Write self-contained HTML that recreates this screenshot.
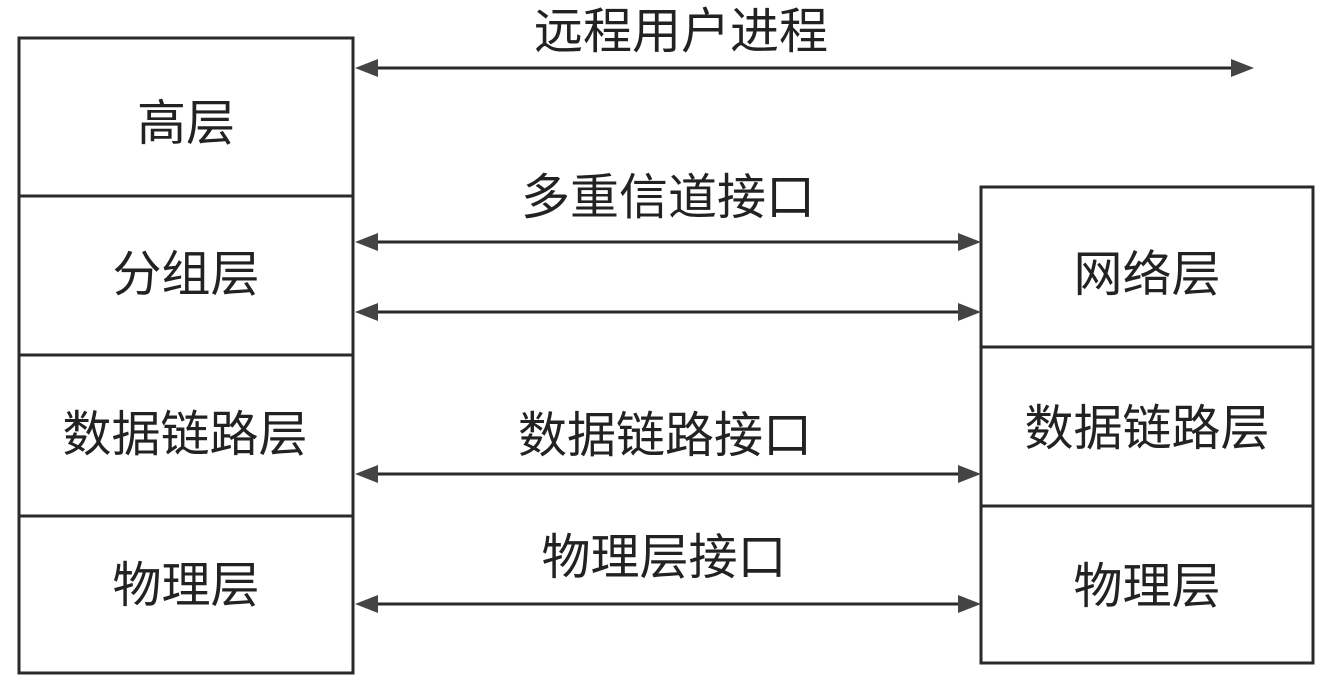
<!DOCTYPE html>
<html><head><meta charset="utf-8"><style>
html,body{margin:0;padding:0;background:#fff;}
svg text{font-family:"Liberation Sans","Noto Sans CJK SC",sans-serif;font-size:49px;fill:#222;text-anchor:middle;}
</style></head><body>
<svg width="1329" height="680" viewBox="0 0 1329 680" xmlns="http://www.w3.org/2000/svg">
<g stroke="#2a2a2a" stroke-width="3" fill="none">
<rect x="19" y="38" width="334" height="635"/>
<line x1="19" y1="196" x2="353" y2="196"/>
<line x1="19" y1="355" x2="353" y2="355"/>
<line x1="19" y1="516" x2="353" y2="516"/>
<rect x="981" y="187" width="332" height="476"/>
<line x1="981" y1="347" x2="1313" y2="347"/>
<line x1="981" y1="506" x2="1313" y2="506"/>
<line x1="375" y1="68" x2="1232" y2="68"/>
<line x1="375" y1="242" x2="960" y2="242"/>
<line x1="375" y1="312" x2="960" y2="312"/>
<line x1="375" y1="474" x2="960" y2="474"/>
<line x1="375" y1="604" x2="960" y2="604"/>
</g>
<g fill="#444">
<polygon points="355,68 378,59 378,77"/><polygon points="1254,68 1231,59 1231,77"/>
<polygon points="355,242 378,233 378,251"/><polygon points="981,242 958,233 958,251"/>
<polygon points="355,312 378,303 378,321"/><polygon points="981,312 958,303 958,321"/>
<polygon points="355,474 378,465 378,483"/><polygon points="981,474 958,465 958,483"/>
<polygon points="355,604 378,595 378,613"/><polygon points="981,604 958,595 958,613"/>
</g>
<text x="681" y="48">远程用户进程</text>
<text x="668" y="214">多重信道接口</text>
<text x="665" y="452">数据链路接口</text>
<text x="664" y="574">物理层接口</text>
<text x="186" y="140">高层</text>
<text x="186" y="291">分组层</text>
<text x="185" y="451">数据链路层</text>
<text x="186" y="602">物理层</text>
<text x="1147" y="291">网络层</text>
<text x="1147" y="445">数据链路层</text>
<text x="1147" y="603">物理层</text>
</svg>
</body></html>
